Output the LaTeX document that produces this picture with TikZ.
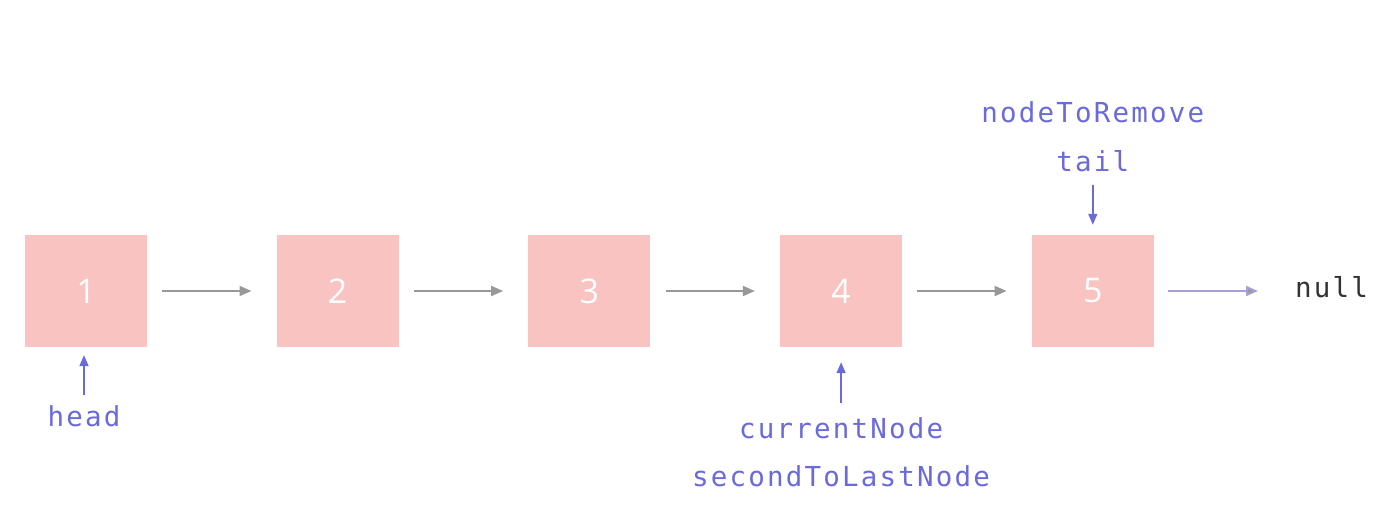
\documentclass[tikz,border=0pt]{standalone}
\usepackage{fontspec}
\usepackage{tikz}
\usetikzlibrary{arrows.meta,positioning}

\newfontfamily\codefont[LetterSpace=8]{DejaVu Sans Mono}
\newfontfamily\numfont{Open Sans}
\definecolor{boxpink}{RGB}{248,195,193}
\definecolor{ptrblue}{RGB}{106,106,218}
\definecolor{linkgray}{RGB}{152,152,152}
\definecolor{nullline}{RGB}{165,160,215}

\begin{document}
\begin{tikzpicture}[
    x=1pt, y=1pt,
    node distance=129.3pt,
    item/.style={rectangle, fill=boxpink, minimum width=122pt, minimum height=112pt, inner sep=0pt, text=white, font=\numfont\fontsize{34}{34}\selectfont},
    pointer/.style={inner sep=0pt, text=ptrblue, font=\codefont\fontsize{27.5}{27.5}\selectfont},
    link/.style={-{Triangle[length=12pt, width=10pt]}, line width=1.8pt, draw=linkgray, shorten <=15pt, shorten >=25pt},
    ptr/.style={-{Triangle[length=11pt, width=9pt]}, line width=1.5pt, draw=ptrblue}
]
\useasboundingbox (0,0) rectangle (1400,-513);

% List nodes
\node[item] (n1) at (86,-291) {1};
\node[item, right=of n1] (n2) {2};
\node[item, right=of n2] (n3) {3};
\node[item, right=of n3] (n4) {4};
\node[item, right=of n4] (n5) {5};
\node[inner sep=0pt, text=black!80, font=\codefont\fontsize{27.5}{27.5}\selectfont, right=141pt of n5, yshift=4pt] (null) {null};

% Links
\draw[link] (n1) -- (n2);
\draw[link] (n2) -- (n3);
\draw[link] (n3) -- (n4);
\draw[link] (n4) -- (n5);
\draw[link, draw=nullline, shorten <=14pt, shorten >=37pt, -{Triangle[length=12pt, width=10pt, fill=linkgray]}] (n5.east) -- (n5.east -| null.west);

% Pointers
\node[pointer, below=58pt of n1, xshift=-2pt] (head) {head};
\node[pointer, below=70pt of n4] (current) {currentNode};
\node[pointer, below=27pt of current] (second) {secondToLastNode};
\node[pointer, above=63pt of n5] (tail) {tail};
\node[pointer, above=27pt of tail] (remove) {nodeToRemove};

\draw[ptr, shorten <=10pt, shorten >=8pt] (head) -- (head |- n1.south);
\draw[ptr, shorten <=14pt, shorten >=15pt] (current) -- (n4);
\draw[ptr, shorten <=13pt, shorten >=10pt] (tail) -- (n5);

\end{tikzpicture}
\end{document}
